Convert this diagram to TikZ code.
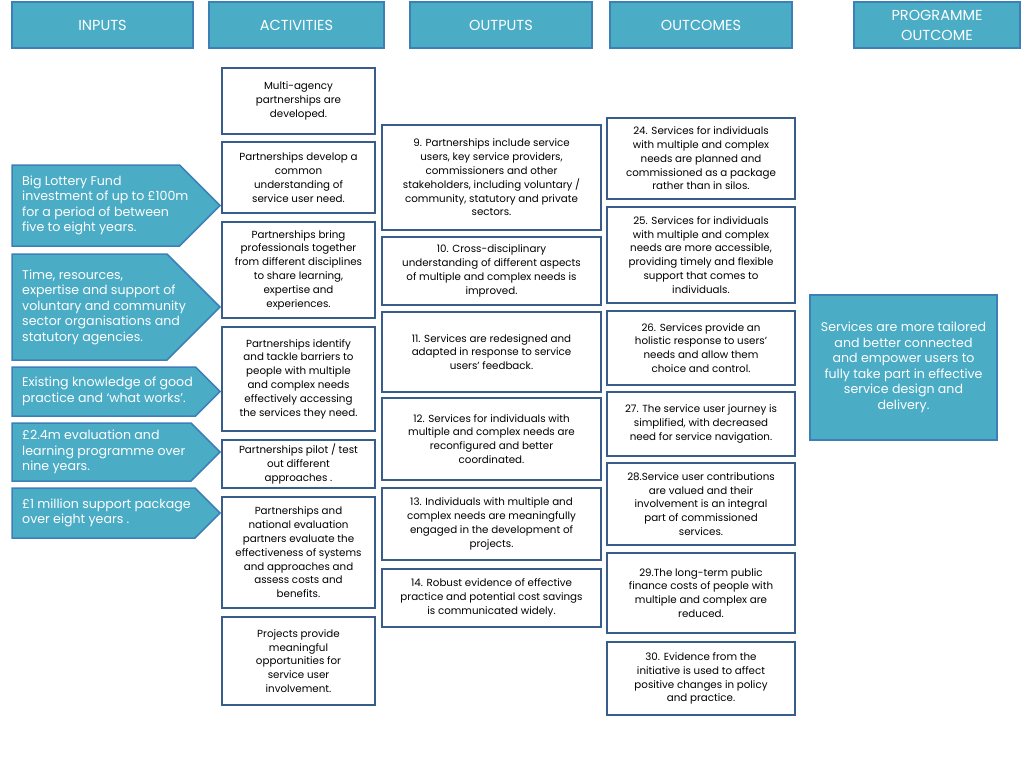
\documentclass[tikz,border=0pt]{standalone}
\usepackage{fontspec}
\setmainfont{Poppins}
\definecolor{headfill}{HTML}{4BACC6}
\definecolor{headline}{HTML}{3D80B8}
\definecolor{cardline}{HTML}{385D8A}
\begin{document}
\begin{tikzpicture}[x=1pt, y=-1pt,
  head/.style={draw=headline, fill=headfill, line width=1.5pt, text=white, inner sep=0pt,
    minimum height=46pt, align=center, font=\fontsize{14.5}{20}\selectfont},
  inarrow/.style={draw=headline, fill=headfill, line width=1.5pt},
  intext/.style={anchor=west, align=left, text=white, inner sep=0pt, font=\fontsize{12.6}{15.5}\selectfont},
  card/.style={draw=cardline, fill=white, line width=2.5pt, inner sep=0pt, align=center,
    font=\fontsize{10.3}{13.8}\selectfont},
  act/.style={card, minimum width=153pt},
  outp/.style={card, minimum width=219pt},
  outc/.style={card, minimum width=188pt}]
\useasboundingbox (0,0) rectangle (1024,768);

% column headings
\node[head, minimum width=181pt] (hinp) at (102.5,25) {INPUTS};
\node[head, minimum width=175pt] (hact) at (296.5,25) {ACTIVITIES};
\node[head, minimum width=182pt] (hout) at (501,25) {OUTPUTS};
\node[head, minimum width=182pt] (hoc) at (701,25) {OUTCOMES};
\node[head, minimum width=166pt] (hprog) at (937,25) {PROGRAMME\\OUTCOME};

% inputs
\draw[inarrow] (12,165) -- (179.5,165) -- (220,205.5) -- (179.5,246) -- (12,246) -- cycle;
\node[intext] (inp1) at (22,205.5) {Big Lottery Fund\\investment of up to £100m\\for a period of between\\five to eight years.};
\draw[inarrow] (12,254) -- (167,254) -- (220,307) -- (167,360) -- (12,360) -- cycle;
\node[intext] (inp2) at (22,307) {Time, resources,\\expertise and support of\\voluntary and community\\sector organisations and\\statutory agencies.};
\draw[inarrow] (12,367) -- (195.5,367) -- (220,391.5) -- (195.5,416) -- (12,416) -- cycle;
\node[intext] (inp3) at (22,391.5) {Existing knowledge of good\\practice and ‘what works’.};
\draw[inarrow] (12,423) -- (191,423) -- (220,452) -- (191,481) -- (12,481) -- cycle;
\node[intext] (inp4) at (22,452) {£2.4m evaluation and\\learning programme over\\nine years.};
\draw[inarrow] (12,488) -- (195,488) -- (220,513) -- (195,538) -- (12,538) -- cycle;
\node[intext] (inp5) at (22,513) {£1 million support package\\over eight years .};

% activities
\node[act, minimum height=66pt] (act1) at (298.5,101) {Multi-agency\\partnerships are\\developed.};
\node[act, minimum height=71pt] (act2) at (298.5,177.5) {Partnerships develop a\\common\\understanding of\\service user need.};
\node[act, minimum height=96pt] (act3) at (298.5,270) {Partnerships bring\\professionals together\\from different disciplines\\to share learning,\\expertise and\\experiences.};
\node[act, minimum height=104pt] (act4) at (298.5,379) {Partnerships identify\\and tackle barriers to\\people with multiple\\and complex needs\\effectively accessing\\the services they need.};
\node[act, minimum height=48pt] (act5) at (298.5,464) {Partnerships pilot / test\\out different\\approaches .};
\node[act, minimum height=111pt] (act6) at (298.5,552.5) {Partnerships and\\national evaluation\\partners evaluate the\\effectiveness of systems\\and approaches and\\assess costs and\\benefits.};
\node[act, minimum height=88pt] (act7) at (298.5,661) {Projects provide\\meaningful\\opportunities for\\service user\\involvement.};

% outputs
\node[outp, minimum height=105pt] (out9) at (491.5,177.5) {9. Partnerships include service\\users, key service providers,\\commissioners and other\\stakeholders, including voluntary /\\community, statutory and private\\sectors.};
\node[outp, minimum height=68pt] (out10) at (491.5,271) {10. Cross-disciplinary\\understanding of different aspects\\of multiple and complex needs is\\improved.};
\node[outp, minimum height=80pt] (out11) at (491.5,352) {11. Services are redesigned and\\adapted in response to service\\users’ feedback.};
\node[outp, minimum height=82pt] (out12) at (491.5,439) {12. Services for individuals with\\multiple and complex needs are\\reconfigured and better\\coordinated.};
\node[outp, minimum height=72pt] (out13) at (491.5,524) {13. Individuals with multiple and\\complex needs are meaningfully\\engaged in the development of\\projects.};
\node[outp, minimum height=58pt] (out14) at (491.5,598) {14. Robust evidence of effective\\practice and potential cost savings\\is communicated widely.};

% outcomes
\node[outc, minimum height=81pt] (oc24) at (701,158.5) {24. Services for individuals\\with multiple and complex\\needs are planned and\\commissioned as a package\\rather than in silos.};
\node[outc, minimum height=96pt] (oc25) at (701,255) {25. Services for individuals\\with multiple and complex\\needs are more accessible,\\providing timely and flexible\\support that comes to\\individuals.};
\node[outc, minimum height=74pt] (oc26) at (701,348) {26. Services provide an\\holistic response to users’\\needs and allow them\\choice and control.};
\node[outc, minimum height=64pt] (oc27) at (701,424) {27. The service user journey is\\simplified, with decreased\\need for service navigation.};
\node[outc, minimum height=82pt] (oc28) at (701,504) {28.Service user contributions\\are valued and their\\involvement is an integral\\part of commissioned\\services.};
\node[outc, minimum height=80pt] (oc29) at (701,593) {29.The long-term public\\finance costs of people with\\multiple and complex are\\reduced.};
\node[outc, minimum height=73pt] (oc30) at (701,678.5) {30. Evidence from the\\initiative is used to affect\\positive changes in policy\\and practice.};

% programme outcome
\node[head, minimum width=187pt, minimum height=145pt, font=\fontsize{12.6}{15.5}\selectfont] (prog) at (903.5,367.5) {Services are more tailored\\and better connected\\and empower users to\\fully take part in effective\\service design and\\delivery.};
\end{tikzpicture}
\end{document}
